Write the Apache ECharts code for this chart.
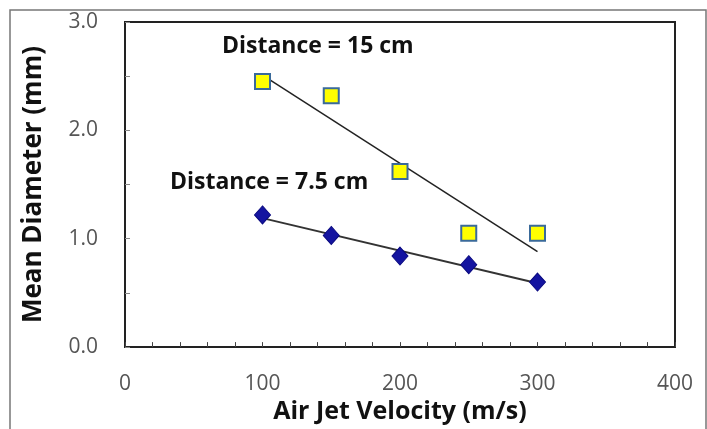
<!DOCTYPE html>
<html><head><meta charset="utf-8">
<script src="https://cdn.jsdelivr.net/npm/echarts@6/dist/echarts.min.js"></script>
<style>html,body{margin:0;padding:0;background:#fff}#c{width:707px;height:429px}</style>
</head><body><div id="c"></div>
<script>
var velocities = [100, 150, 200, 250, 300];
var dia15 = [2.45, 2.32, 1.62, 1.05, 1.05];
var dia75 = [1.22, 1.03, 0.84, 0.76, 0.60];
var trendX = [100, 300];
var trend15 = [2.51, 0.88];
var trend75 = [1.19, 0.59];
var xTitle = 'Air Jet Velocity (m/s)';
var yTitle = 'Mean Diameter (mm)';
var label15 = 'Distance = 15 cm';
var label75 = 'Distance = 7.5 cm';

function pairs(xs, ys){ return xs.map(function(x,i){return [x, ys[i]];}); }
var font = '"Open Sans", "Noto Sans", sans-serif';
var chart = echarts.init(document.getElementById('c'));
chart.setOption({
  animation: false,
  backgroundColor: '#fff',
  grid: {left: 125, right: 32, top: 22, bottom: 80, show: true, borderColor: '#222', borderWidth: 2},
  xAxis: {
    type: 'value', min: 0, max: 400, interval: 100,
    name: xTitle, nameLocation: 'middle', nameGap: 50,
    nameTextStyle: {fontFamily: font, fontSize: 25, fontWeight: 'bold', color: '#111'},
    axisLine: {show: true, lineStyle: {color: '#222', width: 2}},
    axisTick: {show: true, inside: true, length: 5, lineStyle: {color: '#444'}},
    minorTick: {show: true, splitNumber: 5, length: 5, lineStyle: {color: '#444'}},
    axisLabel: {margin: 26, fontFamily: font, fontSize: 21, color: '#555'},
    splitLine: {show: false}
  },
  yAxis: {
    type: 'value', min: 0, max: 3, interval: 1,
    name: yTitle, nameLocation: 'middle', nameGap: 78,
    nameTextStyle: {fontFamily: font, fontSize: 26, fontWeight: 'bold', color: '#111'},
    axisLine: {show: true, lineStyle: {color: '#222', width: 2}},
    axisTick: {show: true, inside: true, length: 5, lineStyle: {color: '#888'}},
    minorTick: {show: true, splitNumber: 2, length: 5, lineStyle: {color: '#888'}},
    axisLabel: {margin: 27, fontFamily: font, fontSize: 21, color: '#555', formatter: function(v){return v.toFixed(1);}},
    splitLine: {show: false}
  },
  graphic: [
    {type: 'rect', shape: {x: 10, y: 10, width: 696, height: 430}, style: {fill: 'none', stroke: '#777', lineWidth: 1.5}, silent: true},
    {type: 'text', left: 222, top: 35, style: {text: label15, font: 'bold 23px ' + font, fill: '#111'}},
    {type: 'text', left: 170, top: 171, style: {text: label75, font: 'bold 23px ' + font, fill: '#111'}}
  ],
  series: [
    {type: 'line', data: pairs(trendX, trend15), symbol: 'none', lineStyle: {color: '#222', width: 1.5}, z: 2},
    {type: 'line', data: pairs(trendX, trend75), symbol: 'none', lineStyle: {color: '#333', width: 2}, z: 2},
    {type: 'scatter', data: pairs(velocities, dia15), symbol: 'rect', symbolSize: 15,
      itemStyle: {color: '#FFFF00', borderColor: '#3A6A9A', borderWidth: 2, opacity: 1}, z: 3},
    {type: 'scatter', data: pairs(velocities, dia75), symbol: 'diamond', symbolSize: [16, 18],
      itemStyle: {color: '#1414A0', borderColor: '#0A0A80', borderWidth: 1, opacity: 1}, z: 3}
  ]
});
</script></body></html>
